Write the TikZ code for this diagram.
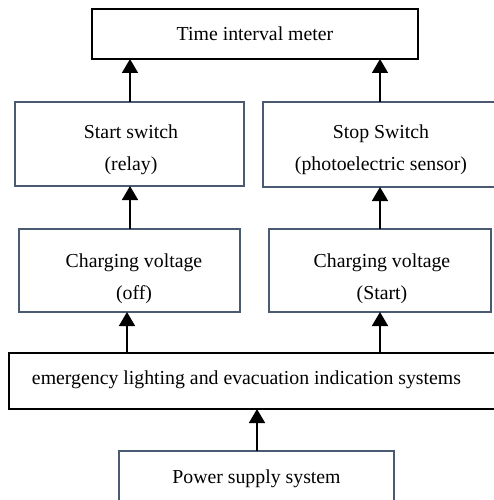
\documentclass[tikz,border=0pt]{standalone}
\usepackage{fontspec}
\setmainfont{Liberation Serif}
\usetikzlibrary{arrows.meta}
\definecolor{boxblue}{HTML}{4A5A72}
\tikzset{
  bbox/.style={draw=black, line width=2pt, fill=white, inner sep=0pt, outer sep=0pt},
  gbox/.style={draw=boxblue, line width=2pt, fill=white, inner sep=0pt, outer sep=0pt},
  txt/.style={font=\fontsize{19.8}{32}\selectfont, align=center, inner sep=0pt},
  arr/.style={line width=1.6pt, -{Triangle[width=16pt,length=14pt]}}
}
\begin{document}
\begin{tikzpicture}[x=1pt,y=-1pt]
\useasboundingbox (0,0) rectangle (494,500);
\clip (0,0) rectangle (494,500);
\fill[white] (0,0) rectangle (494,500);
% boxes
\node[bbox, minimum width=326pt, minimum height=50pt] (tim) at (255,34) {};
\node[gbox, minimum width=229pt, minimum height=84pt] (start) at (129.5,144) {};
\node[gbox, minimum width=250pt, minimum height=85pt] (stop) at (388,144.5) {};
\node[gbox, minimum width=221pt, minimum height=83pt] (chl) at (129.5,270.5) {};
\node[gbox, minimum width=222pt, minimum height=83pt] (chr) at (380,270.5) {};
\node[bbox, minimum width=500pt, minimum height=56pt] (emer) at (259,381) {};
\node[gbox, minimum width=275pt, minimum height=90pt] (pow) at (256.5,496) {};
% texts
\node[txt] (t1) at (255,34) {Time interval meter};
\node[txt] (t2) at (131,150) {Start switch\\(relay)};
\node[txt] (t3) at (381,150) {Stop Switch\\(photoelectric sensor)};
\node[txt] (t4) at (134,279) {Charging voltage\\(off)};
\node[txt] (t5) at (382,279) {Charging voltage\\(Start)};
\node[txt] (t6) at (246.5,380) {emergency lighting and evacuation indication systems};
\node[txt] (t7) at (256.5,479) {Power supply system};
% arrow columns
\coordinate (c1) at (130,0);
\coordinate (c2) at (380,0);
\coordinate (c3) at (127,0);
\coordinate (c4) at (257,0);
\draw[arr] (start.north -| c1) -- (tim.south -| c1);
\draw[arr] (stop.north -| c2) -- (tim.south -| c2);
\draw[arr] (chl.north -| c1) -- (start.south -| c1);
\draw[arr] (chr.north -| c2) -- (stop.south -| c2);
\draw[arr] (emer.north -| c3) -- (chl.south -| c3);
\draw[arr] (emer.north -| c2) -- (chr.south -| c2);
\draw[arr] (pow.north -| c4) -- (emer.south -| c4);
\end{tikzpicture}
\end{document}
